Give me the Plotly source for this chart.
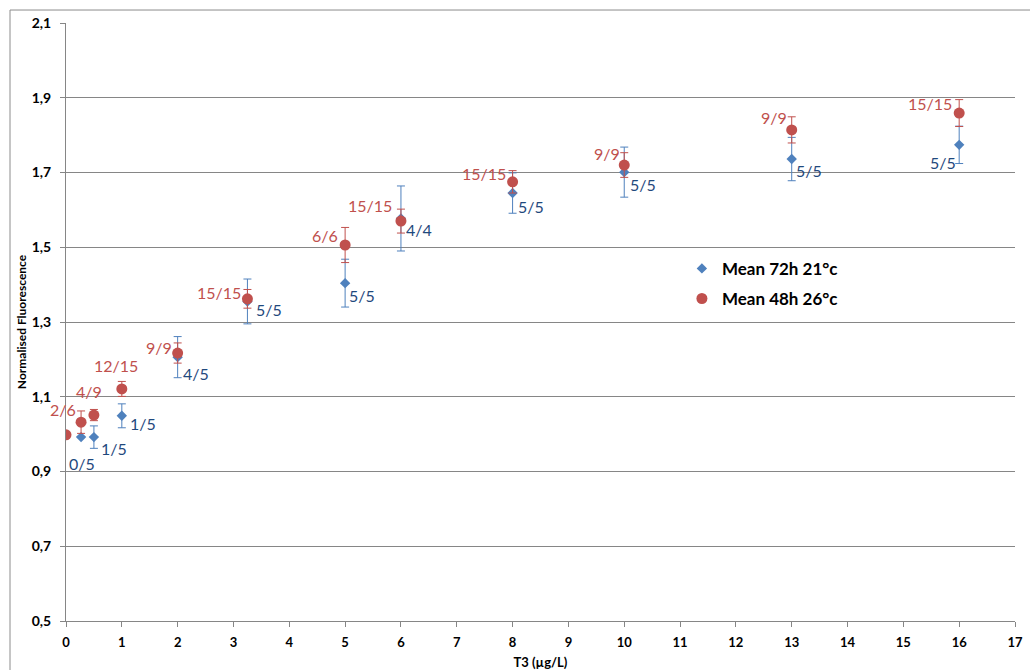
import plotly.graph_objects as go

# T3 concentration (µg/L) and normalised fluorescence, two incubation conditions
t3_72h = [0.27, 0.5, 1, 2, 3.25, 5, 6, 8, 10, 13, 16]
mean_72h = [0.992, 0.992, 1.049, 1.206, 1.355, 1.404, 1.577, 1.645, 1.701, 1.736, 1.774]
err_72h = [0.0, 0.03, 0.032, 0.055, 0.06, 0.064, 0.087, 0.054, 0.067, 0.058, 0.05]
labels_72h = ["0/5", "1/5", "1/5", "4/5", "5/5", "5/5", "4/4", "5/5", "5/5", "5/5", "5/5"]

t3_48h = [0, 0.27, 0.5, 1, 2, 3.25, 5, 6, 8, 10, 13, 16]
mean_48h = [0.998, 1.032, 1.051, 1.121, 1.217, 1.362, 1.506, 1.570, 1.675, 1.720, 1.814, 1.859]
err_48h = [0.0, 0.03, 0.015, 0.02, 0.027, 0.025, 0.047, 0.032, 0.03, 0.033, 0.035, 0.036]
labels_48h = ["", "2/6", "4/9", "12/15", "9/9", "15/15", "6/6", "15/15", "15/15", "9/9", "9/9", "15/15"]

x_ticks = list(range(0, 18))
y_ticks = [0.5, 0.7, 0.9, 1.1, 1.3, 1.5, 1.7, 1.9, 2.1]

# pixel offsets of the count labels relative to their points
shift_72h = [(1, -26), (20, -11), (21, -8), (18, -16), (22, -8), (17, -12),
             (18, -11), (18, -13), (19, -12), (17, -11), (-16, -18)]
shift_48h = [(0, 0), (-18, 13), (-5, 24), (-6, 23), (-19, 6), (-28, 6), (-20, 10),
             (-31, 16), (-29, 8), (-17, 12), (-18, 12), (-29, 10)]

BLUE = "#4F81BD"
RED = "#C0504D"
BLUE_TXT = "#1F497D"
GRID = "#868686"
FONT = "Lato"

fig = go.Figure()
fig.add_trace(go.Scatter(
    x=t3_72h, y=mean_72h, mode="markers", name="Mean 72h 21°c", legendgroup="a",
    marker=dict(symbol="diamond", size=8, color=BLUE),
    error_y=dict(type="data", array=err_72h, color=BLUE, thickness=1, width=4),
))
fig.add_trace(go.Scatter(
    x=t3_48h, y=mean_48h, mode="markers", name="Mean 48h 26°c", legendgroup="b",
    marker=dict(symbol="circle", size=11, color=RED),
    error_y=dict(type="data", array=err_48h, color=RED, thickness=1, width=4),
))

annotations = []
for xv, yv, txt, (dx, dy) in zip(t3_72h, mean_72h, labels_72h, shift_72h):
    if txt:
        annotations.append(dict(x=xv, y=yv, text=txt, showarrow=False, xshift=dx, yshift=dy,
                                font=dict(family=FONT, size=16, color=BLUE_TXT)))
for xv, yv, txt, (dx, dy) in zip(t3_48h, mean_48h, labels_48h, shift_48h):
    if txt:
        annotations.append(dict(x=xv, y=yv, text=txt, showarrow=False, xshift=dx, yshift=dy,
                                font=dict(family=FONT, size=16, color=RED)))

fig.update_layout(
    width=1030, height=670,
    margin=dict(l=66, r=15, t=23, b=49, autoexpand=False),
    paper_bgcolor="white", plot_bgcolor="white",
    separators=", ",
    font=dict(family=FONT, color="black"),
    annotations=annotations,
    showlegend=True,
    legend=dict(x=0.649, y=0.619, xanchor="left", yanchor="top",
                bgcolor="rgba(0,0,0,0)", tracegroupgap=5, traceorder="grouped",
                font=dict(family=FONT, size=17, color="black", weight="bold")),
    shapes=[dict(type="rect", xref="paper", yref="paper", x0=-0.059, x1=1.03,
                 y0=-0.12, y1=1.0217, line=dict(color="#8C8C8C", width=1),
                 fillcolor="rgba(0,0,0,0)", layer="below")],
)
fig.update_xaxes(
    range=[0, 17], tickvals=x_ticks, ticks="outside", ticklen=5, tickcolor=GRID,
    showline=True, linecolor=GRID, linewidth=1, showgrid=False, zeroline=False,
    automargin=False, ticklabelstandoff=4,
    tickfont=dict(family=FONT, size=13, weight="bold"),
    title=dict(text="T3 (µg/L)", standoff=12, font=dict(family=FONT, size=13, weight="bold")),
)
fig.update_yaxes(
    range=[0.5, 2.1], tickvals=y_ticks, tickformat=".1f", ticks="outside", ticklen=5,
    tickcolor=GRID, showline=True, linecolor=GRID, linewidth=1,
    showgrid=True, gridcolor=GRID, gridwidth=1, zeroline=False, automargin=False,
    ticklabelstandoff=6,
    tickfont=dict(family=FONT, size=14, weight="bold"),
    title=dict(text="Normalised Fluorescence", standoff=2,
               font=dict(family=FONT, size=12, weight="bold")),
)

fig.write_html("out.html")
